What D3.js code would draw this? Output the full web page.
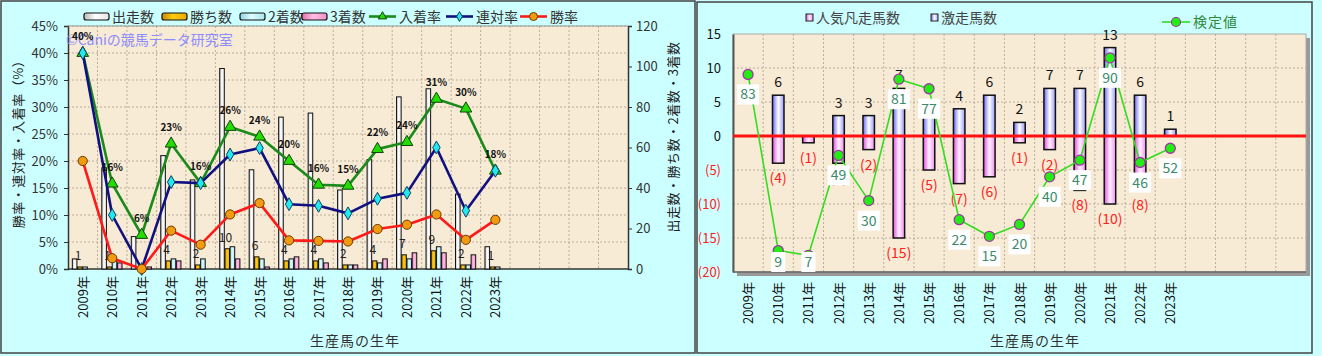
<!DOCTYPE html>
<html><head><meta charset="utf-8">
<script src="https://cdn.jsdelivr.net/npm/d3@7"></script>
<style>body{margin:0;background:#ccffff;overflow:hidden;} svg{display:block;} text{font-family:"Noto Sans CJK JP","DejaVu Sans",sans-serif;}</style>
</head><body>
<svg id="c" width="1322" height="356"></svg>
<script>
// ---------- data ----------
const years = ["2009年","2010年","2011年","2012年","2013年","2014年","2015年","2016年","2017年","2018年","2019年","2020年","2021年","2022年","2023年"];
const emptySlots = ["e1","e2","e3","e4"];
// left chart
const starts  = [5,50,16,56,44,99,49,75,77,39,54,85,89,37,11];
const wins    = [1,1,0,4,2,10,6,4,4,2,4,7,9,2,1];
const seconds = [1,4,0,5,5,11,5,5,5,2,3,5,11,2,1];
const thirds  = [0,3,1,4,0,5,1,6,3,2,5,8,8,7,0];
const placeRate  = [40,15.8,6.3,23.2,15.9,26.3,24.5,20,15.6,15.4,22.2,23.5,31.5,29.7,18.2];
const rentaiRate = [40,10,0,16.1,15.9,21.2,22.4,12,11.7,10.3,13,14.1,22.5,10.8,18.2];
const winRate    = [20,2,0,7.1,4.5,10.1,12.2,5.3,5.2,5.1,7.4,8.2,10.1,5.4,9.1];
const placeLabels = ["40%","16%","6%","23%","16%","26%","24%","20%","16%","15%","22%","24%","31%","30%","18%"];
const leftTicks = [0,5,10,15,20,25,30,35,40,45];
const rightTicks = [0,20,40,60,80,100,120];
// right chart
const gekisou = [0,6,0,3,3,7,5,4,6,2,7,7,13,6,1];
const bonsou  = [0,4,1,4,2,15,5,7,6,1,2,8,10,8,0];
const kentei  = [83,9,7,49,30,81,77,22,15,20,40,47,90,46,52];
const rTicks = [15,10,5,0,-5,-10,-15,-20];

const svg = d3.select("#c");
const defs = svg.append("defs");
function hgrad(id, stops){
  const g = defs.append("linearGradient").attr("id",id).attr("x1","0").attr("x2","1").attr("y1","0").attr("y2","0");
  stops.forEach(s=>g.append("stop").attr("offset",s[0]).attr("stop-color",s[1]));
}
hgrad("gWhite",[[0,"#b8b8b8"],[0.45,"#ffffff"],[1,"#e4e4e4"]]);
hgrad("gOrange",[[0,"#c88a00"],[0.45,"#ffcc10"],[1,"#e8a800"]]);
hgrad("gCyan",[[0,"#8cd4e4"],[0.45,"#e0fcff"],[1,"#a8e4f0"]]);
hgrad("gPink",[[0,"#e070b0"],[0.45,"#ffc0e4"],[1,"#f090c8"]]);
hgrad("gBlue",[[0,"#6868f8"],[0.5,"#ffffff"],[1,"#9a9aff"]]);
hgrad("gMag",[[0,"#e050e0"],[0.5,"#fff0ff"],[1,"#f090f0"]]);

const bgBeige = "#f8ebd5";
const gridCol = "#b8ad9c";

// ---------- panels ----------
svg.append("rect").attr("x",1).attr("y",1).attr("width",694).attr("height",352).attr("fill","#ccffff").attr("stroke","#444").attr("stroke-width",1.5);
svg.append("rect").attr("x",697).attr("y",2).attr("width",615).attr("height",351).attr("fill","#ccffff").attr("stroke","#444").attr("stroke-width",1.5);

// ================= LEFT CHART =================
const L = {x0:68,x1:628,y0:26,y1:269};
const xL = d3.scaleBand().domain(years.concat(emptySlots)).range([L.x0,L.x1]);
const yL = d3.scaleLinear().domain([0,45]).range([L.y1,L.y0]);
const yR = d3.scaleLinear().domain([0,120]).range([L.y1,L.y0]);
const gL = svg.append("g");
gL.append("rect").attr("x",L.x0).attr("y",L.y0).attr("width",L.x1-L.x0).attr("height",L.y1-L.y0).attr("fill",bgBeige);
// grid
gL.append("g").selectAll("line.h").data(leftTicks.slice(1)).join("line")
  .attr("x1",L.x0).attr("x2",L.x1).attr("y1",d=>yL(d)).attr("y2",d=>yL(d))
  .attr("stroke",gridCol).attr("stroke-dasharray","2,2");
gL.append("g").selectAll("line.v").data(xL.domain().slice(1)).join("line")
  .attr("x1",d=>xL(d)).attr("x2",d=>xL(d)).attr("y1",L.y0).attr("y2",L.y1)
  .attr("stroke",gridCol).attr("stroke-dasharray","2,2");
// axes
const axL = gL.append("g").attr("transform",`translate(${L.x0},0)`).call(d3.axisLeft(yL).tickValues(leftTicks).tickFormat(d=>d+"%").tickSize(4));
const axR = gL.append("g").attr("transform",`translate(${L.x1},0)`).call(d3.axisRight(yR).tickValues(rightTicks).tickSize(4));
[axL,axR].forEach(a=>{a.select(".domain").attr("stroke","#333").attr("stroke-width",1.5);a.selectAll(".tick line").attr("stroke","#333");
  a.selectAll(".tick text").attr("font-size",13).attr("fill","#333").attr("font-family","Liberation Sans, Arial, sans-serif");});
axL.selectAll(".tick text").attr("x",-10);
axR.selectAll(".tick text").attr("x",8);
gL.append("line").attr("x1",L.x0).attr("x2",L.x1).attr("y1",L.y1).attr("y2",L.y1).attr("stroke","#333").attr("stroke-width",1.5);
gL.append("line").attr("x1",L.x0).attr("x2",L.x1).attr("y1",L.y0).attr("y2",L.y0).attr("stroke","#999").attr("stroke-width",1);
// x labels
gL.append("g").selectAll("text").data(years).join("text")
  .attr("transform",d=>`translate(${xL(d)+xL.bandwidth()/2+5},276) rotate(-90)`)
  .attr("text-anchor","end").attr("font-size",13).attr("fill","#111")
  .text(d=>d);

// bars
const bw = 5.2;
const groupW = bw*4;
const barSeries = [
  {vals:starts,fill:"url(#gWhite)"},
  {vals:wins,fill:"url(#gOrange)"},
  {vals:seconds,fill:"url(#gCyan)"},
  {vals:thirds,fill:"url(#gPink)"}
];
barSeries.forEach((s,k)=>{
  gL.append("g").selectAll("rect").data(years).join("rect")
    .attr("x",d=>xL(d)+xL.bandwidth()/2-groupW/2+k*bw)
    .attr("y",(d,i)=>yR(s.vals[i]))
    .attr("width",bw-0.6)
    .attr("height",(d,i)=>Math.max(0,yR(0)-yR(s.vals[i])))
    .attr("fill",s.fill).attr("stroke","#111").attr("stroke-width",1)
    .attr("display",(d,i)=>s.vals[i]>0?null:"none");
});
// win count labels
gL.append("g").selectAll("text").data(years).join("text")
  .attr("x",d=>xL(d)+xL.bandwidth()/2-groupW/2+bw*1.5-2)
  .attr("y",(d,i)=>yR(wins[i])-7)
  .attr("text-anchor","middle").attr("font-size",12).attr("fill","#222")
  .attr("font-family","Liberation Sans, Arial, sans-serif")
  .text((d,i)=>wins[i]>0?wins[i]:"");

// watermark
gL.append("text").attr("x",66).attr("y",45).attr("font-size",14).attr("fill","#8c8cff").text("©Caniの競馬データ研究室");

const cx = d=>xL(d)+xL.bandwidth()/2;
function drawLine(vals,color){
  gL.append("path").datum(years).attr("fill","none").attr("stroke",color).attr("stroke-width",2.6)
    .attr("stroke-linejoin","round")
    .attr("d",d3.line().x(d=>cx(d)).y((d,i)=>yL(vals[i])));
}
drawLine(placeRate,"#1a8a1a");
gL.append("g").selectAll("path").data(years).join("path")
  .attr("transform",(d,i)=>`translate(${cx(d)},${yL(placeRate[i])})`)
  .attr("d",d3.symbol(d3.symbolTriangle,60)).attr("fill","#22dd00").attr("stroke","#114411").attr("stroke-width",1);
drawLine(rentaiRate,"#101080");
gL.append("g").selectAll("path").data(years).join("path")
  .attr("transform",(d,i)=>`translate(${cx(d)},${yL(rentaiRate[i])})`)
  .attr("d",d3.symbol(d3.symbolDiamond,48)).attr("fill","#22e8f0").attr("stroke","#104060").attr("stroke-width",1);
drawLine(winRate,"#ff1a1a");
gL.append("g").selectAll("circle").data(years).join("circle")
  .attr("cx",d=>cx(d)).attr("cy",(d,i)=>yL(winRate[i])).attr("r",4.6)
  .attr("fill","#f29a10").attr("stroke","#6a3a00").attr("stroke-width",1);
// place labels
gL.append("g").selectAll("text").data(years).join("text")
  .attr("x",d=>cx(d)).attr("y",(d,i)=>yL(placeRate[i])-13)
  .attr("text-anchor","middle").attr("font-size",10).attr("font-weight","bold").attr("fill","#111")
  .attr("font-family","DejaVu Sans, sans-serif")
  .text((d,i)=>placeLabels[i]);

// titles
svg.append("text").attr("transform","translate(23,141) rotate(-90)").attr("text-anchor","middle")
  .attr("font-size",13).attr("fill","#222").attr("letter-spacing",0.5).text("勝率・連対率・入着率（%）");
svg.append("text").attr("transform","translate(678,137) rotate(-90)").attr("text-anchor","middle")
  .attr("font-size",13).attr("fill","#222").attr("letter-spacing",0.5).text("出走数・勝ち数・2着数・3着数");
svg.append("text").attr("x",355).attr("y",346).attr("text-anchor","middle").attr("font-size",14).attr("fill","#333").attr("letter-spacing",1).text("生産馬の生年");

// left legend
const legL = svg.append("g");
const barLeg = [
  {x:84,label:"出走数",fill:"url(#gWhite)"},
  {x:162,label:"勝ち数",fill:"url(#gOrange)"},
  {x:240,label:"2着数",fill:"url(#gCyan)"},
  {x:302,label:"3着数",fill:"url(#gPink)"}
];
barLeg.forEach(b=>{
  legL.append("rect").attr("x",b.x).attr("y",13).attr("width",25).attr("height",7).attr("rx",2)
    .attr("fill",b.fill).attr("stroke","#111").attr("stroke-width",1.2);
  legL.append("text").attr("x",b.x+28).attr("y",22).attr("font-size",14).attr("fill","#333").text(b.label);
});
const lineLeg = [
  {x:369,label:"入着率",color:"#1a8a1a",m:"tri"},
  {x:446,label:"連対率",color:"#101080",m:"dia"},
  {x:520,label:"勝率",color:"#ff1a1a",m:"cir"}
];
lineLeg.forEach(b=>{
  legL.append("line").attr("x1",b.x).attr("x2",b.x+27).attr("y1",16.5).attr("y2",16.5).attr("stroke",b.color).attr("stroke-width",2.6);
  if(b.m==="tri") legL.append("path").attr("transform",`translate(${b.x+13.5},16.5)`).attr("d",d3.symbol(d3.symbolTriangle,30)).attr("fill","#22dd00").attr("stroke","#114411");
  if(b.m==="dia") legL.append("path").attr("transform",`translate(${b.x+13.5},16.5)`).attr("d",d3.symbol(d3.symbolDiamond,28)).attr("fill","#22e8f0").attr("stroke","#104060");
  if(b.m==="cir") legL.append("circle").attr("cx",b.x+13.5).attr("cy",16.5).attr("r",4).attr("fill","#f29a10").attr("stroke","#6a3a00");
  legL.append("text").attr("x",b.x+30).attr("y",22).attr("font-size",14).attr("fill","#333").text(b.label);
});

// ================= RIGHT CHART =================
const R = {x0:733,x1:1306,y0:34,y1:272};
const xR2 = d3.scaleBand().domain(years.concat(emptySlots)).range([R.x0,R.x1]);
const yC = d3.scaleLinear().domain([-20,15]).range([R.y1,R.y0]);
const yK = d3.scaleLinear().domain([0,100]).range([R.y1,R.y0]);
const gR = svg.append("g");
gR.append("rect").attr("x",R.x0+4).attr("y",R.y0+4).attr("width",R.x1-R.x0).attr("height",R.y1-R.y0).attr("fill","#999");
gR.append("rect").attr("x",R.x0).attr("y",R.y0).attr("width",R.x1-R.x0).attr("height",R.y1-R.y0).attr("fill",bgBeige).attr("stroke","#aaa").attr("stroke-width",1);
gR.append("g").selectAll("line").data(rTicks.filter(d=>d!==15&&d!==-20&&d!==0)).join("line")
  .attr("x1",R.x0).attr("x2",R.x1).attr("y1",d=>yC(d)).attr("y2",d=>yC(d))
  .attr("stroke",gridCol).attr("stroke-dasharray","2,2");
gR.append("g").selectAll("line").data(xR2.domain().slice(1)).join("line")
  .attr("x1",d=>xR2(d)).attr("x2",d=>xR2(d)).attr("y1",R.y0).attr("y2",R.y1)
  .attr("stroke",gridCol).attr("stroke-dasharray","2,2");
const axC = gR.append("g").attr("transform",`translate(${R.x0},0)`).call(d3.axisLeft(yC).tickValues(rTicks).tickSize(0).tickFormat(d=>d<0?`(${-d})`:d));
axC.select(".domain").attr("stroke","#555").attr("stroke-width",2);
axC.selectAll(".tick text").attr("x",-12).attr("font-size",13).attr("font-family","Liberation Sans, Arial, sans-serif")
  .attr("fill",d=>d<0?"#ff2020":"#111");
gR.append("line").attr("x1",R.x0).attr("x2",R.x1).attr("y1",R.y1).attr("y2",R.y1).attr("stroke","#666").attr("stroke-width",1.5);
gR.append("g").selectAll("text").data(years).join("text")
  .attr("transform",d=>`translate(${xR2(d)+xR2.bandwidth()/2+5},282) rotate(-90)`)
  .attr("text-anchor","end").attr("font-size",13).attr("fill","#111").text(d=>d);

const rbw = 11.5;
const rcx = d=>xR2(d)+xR2.bandwidth()/2;
gR.append("g").selectAll("rect").data(years).join("rect")
  .attr("x",d=>rcx(d)-rbw/2).attr("y",yC(0)).attr("width",rbw)
  .attr("height",(d,i)=>yC(-bonsou[i])-yC(0))
  .attr("fill","url(#gMag)").attr("stroke","#111").attr("stroke-width",1.5)
  .attr("display",(d,i)=>bonsou[i]>0?null:"none");
gR.append("g").selectAll("rect").data(years).join("rect")
  .attr("x",d=>rcx(d)-rbw/2).attr("y",(d,i)=>yC(gekisou[i])).attr("width",rbw)
  .attr("height",(d,i)=>yC(0)-yC(gekisou[i]))
  .attr("fill","url(#gBlue)").attr("stroke","#111").attr("stroke-width",1.5)
  .attr("display",(d,i)=>gekisou[i]>0?null:"none");
gR.append("line").attr("x1",R.x0).attr("x2",R.x1).attr("y1",yC(0)).attr("y2",yC(0)).attr("stroke","#ff1010").attr("stroke-width",3);
gR.append("g").selectAll("text").data(years).join("text")
  .attr("x",d=>rcx(d)).attr("y",(d,i)=>yC(gekisou[i])-8)
  .attr("text-anchor","middle").attr("font-size",14).attr("fill","#111").attr("font-family","Liberation Sans, Arial, sans-serif")
  .text((d,i)=>gekisou[i]>0?gekisou[i]:"");
gR.append("g").selectAll("text").data(years).join("text")
  .attr("x",d=>rcx(d)).attr("y",(d,i)=>yC(-bonsou[i])+20)
  .attr("text-anchor","middle").attr("font-size",14).attr("fill","#ff2020").attr("font-family","Liberation Sans, Arial, sans-serif")
  .text((d,i)=>bonsou[i]>0?`(${bonsou[i]})`:"");
// kentei line
gR.append("path").datum(years).attr("fill","none").attr("stroke","#33dd22").attr("stroke-width",1.6)
  .attr("d",d3.line().x(d=>rcx(d)).y((d,i)=>yK(kentei[i])));
gR.append("g").selectAll("circle").data(years).join("circle")
  .attr("cx",d=>rcx(d)).attr("cy",(d,i)=>yK(kentei[i])).attr("r",5)
  .attr("fill","#22ee11").attr("stroke","#9a3aa0").attr("stroke-width",1.3);
const kl = gR.append("g").selectAll("g").data(years).join("g")
  .attr("transform",(d,i)=>{const yy=Math.min(yK(kentei[i])+20,R.y1-10);return `translate(${rcx(d)},${yy})`;});
kl.append("rect").attr("x",(d,i)=>String(kentei[i]).length>1?-11:-7).attr("y",-10)
  .attr("width",(d,i)=>String(kentei[i]).length>1?22:14).attr("height",20).attr("fill","#fff");
kl.append("text").attr("y",5).attr("text-anchor","middle").attr("font-size",14).attr("fill","#3a8a6a")
  .attr("font-family","Liberation Sans, Arial, sans-serif").text((d,i)=>kentei[i]);

// right legend
const legR = svg.append("g");
legR.append("rect").attr("x",806).attr("y",14).attr("width",7).attr("height",7).attr("fill","url(#gMag)").attr("stroke","#222");
legR.append("text").attr("x",816).attr("y",23).attr("font-size",14).attr("fill","#444").text("人気凡走馬数");
legR.append("rect").attr("x",931).attr("y",14).attr("width",7).attr("height",7).attr("fill","url(#gBlue)").attr("stroke","#222");
legR.append("text").attr("x",941).attr("y",23).attr("font-size",14).attr("fill","#444").text("激走馬数");
legR.append("line").attr("x1",1162).attr("x2",1190).attr("y1",22).attr("y2",22).attr("stroke","#33dd22").attr("stroke-width",1.6);
legR.append("circle").attr("cx",1176).attr("cy",22).attr("r",4.5).attr("fill","#22ee11").attr("stroke","#9a3aa0").attr("stroke-width",1.2);
legR.append("text").attr("x",1193).attr("y",27).attr("font-size",14).attr("fill","#2e8b3e").attr("letter-spacing",1).text("検定値");
svg.append("text").attr("x",1035).attr("y",346).attr("text-anchor","middle").attr("font-size",14).attr("fill","#333").attr("letter-spacing",1).text("生産馬の生年");
</script>
</body></html>
